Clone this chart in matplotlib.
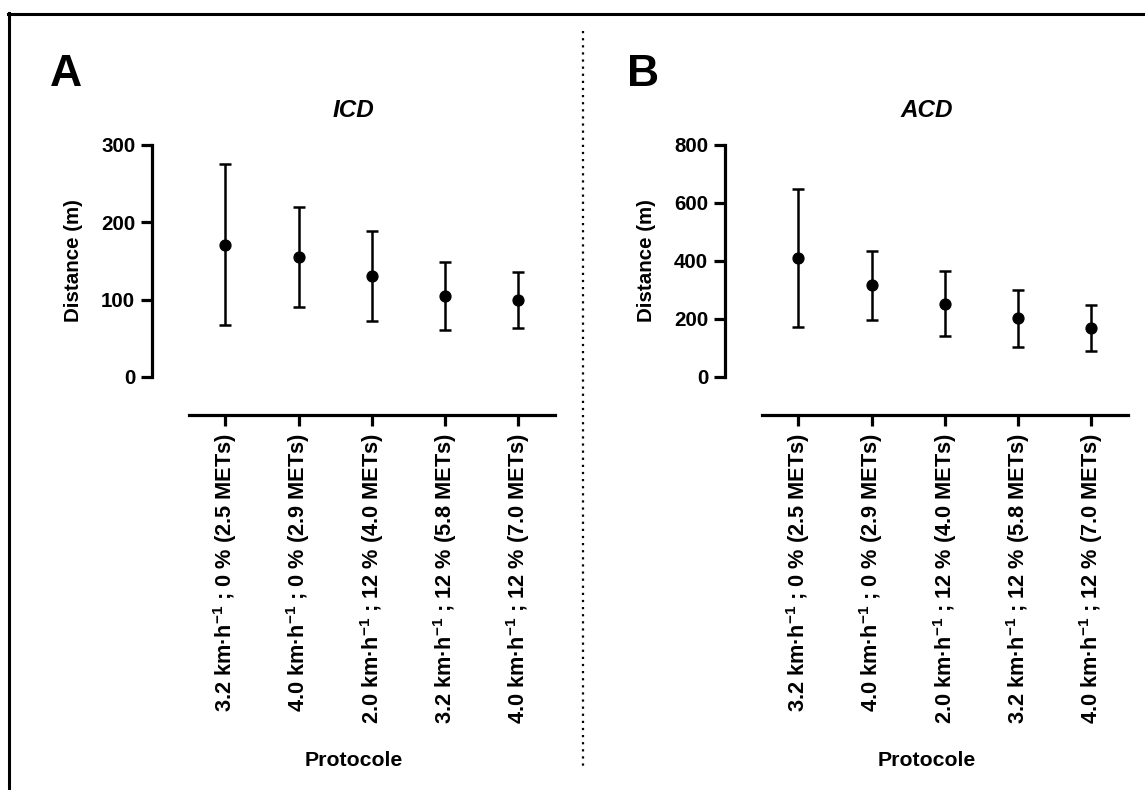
import numpy as np
import matplotlib
matplotlib.use("Agg")
import matplotlib.pyplot as plt
from matplotlib.lines import Line2D

plt.rcParams.update({
    "font.family": "Liberation Sans",
    "font.weight": "bold",
    "mathtext.fontset": "custom",
    "mathtext.rm": "Liberation Sans:bold",
    "mathtext.bf": "Liberation Sans:bold",
    "mathtext.default": "bf",
})

protocols = [
    r"3.2 km·h$^{-1}$ ; 0 % (2.5 METs)",
    r"4.0 km·h$^{-1}$ ; 0 % (2.9 METs)",
    r"2.0 km·h$^{-1}$ ; 12 % (4.0 METs)",
    r"3.2 km·h$^{-1}$ ; 12 % (5.8 METs)",
    r"4.0 km·h$^{-1}$ ; 12 % (7.0 METs)",
]
icd_mean = [171, 155, 131, 105, 100]
icd_sd = [104, 65, 58, 44, 36]
acd_mean = [410, 316, 253, 203, 168]
acd_sd = [238, 120, 112, 98, 79]

W, H = 1145, 790
fig = plt.figure(figsize=(W / 100, H / 100), dpi=100)


def px(x0, y0, x1, y1):
    return [x0 / W, 1 - y1 / H, (x1 - x0) / W, (y1 - y0) / H]


def panel(rect, mean, sd, ymax, step, title, letter, letter_x):
    ax = fig.add_axes(px(*rect))
    x = np.arange(len(mean))
    ax.errorbar(x, mean, yerr=sd, fmt="o", color="black", ms=7.8,
                elinewidth=1.8, capsize=4.5, capthick=1.8)
    # spine position first: set_position resets the ticks
    for s in ["top", "right"]:
        ax.spines[s].set_visible(False)
    ax.spines["left"].set_linewidth(2.3)
    ax.spines["bottom"].set_linewidth(2.3)
    ax.spines["bottom"].set_position(("outward", 27))
    ax.spines["bottom"].set_bounds(-0.5, len(mean) - 0.5)
    ax.set_xlim(-1.0, len(mean) - 0.5)
    ax.set_ylim(0, ymax)
    ax.set_yticks(np.arange(0, ymax + 1, step))
    ax.set_xticks(x)
    ax.set_xticklabels(protocols, rotation=90, fontsize=15.7, fontweight="bold")
    ax.tick_params(width=2.3, length=8, pad=4)
    ax.tick_params(axis="y", labelsize=14.8)
    ax.tick_params(axis="x", pad=5)
    ax.set_ylabel("Distance (m)", fontsize=14.8, fontweight="bold", labelpad=13)
    ax.set_xlabel("Protocole", fontsize=15.3, fontweight="bold", labelpad=20)
    ax.set_title(title, fontsize=17.5, fontweight="bold", style="italic", pad=20)
    fig.text(letter_x / W, 1 - 75 / H, letter, fontsize=32, fontweight="bold",
             ha="center", va="center")
    return ax


panel((152, 145, 555, 377), icd_mean, icd_sd, 300, 100, "ICD", "A", 66)
panel((725, 145, 1128, 377), acd_mean, acd_sd, 800, 200, "ACD", "B", 643)

# outer frame (top and left edges) and dotted divider
fig.add_artist(Line2D([8 / W, 1.0], [1 - 14 / H, 1 - 14 / H], color="black", lw=2.2,
                      transform=fig.transFigure))
fig.add_artist(Line2D([9 / W, 9 / W], [0, 1 - 13 / H], color="black", lw=2.2,
                      transform=fig.transFigure))
fig.add_artist(Line2D([583 / W, 583 / W], [1 - 31 / H, 1 - 768 / H], color="black",
                      lw=1.6, linestyle=(0, (1, 2.2)), transform=fig.transFigure))

fig.savefig("out.png", dpi=100)
